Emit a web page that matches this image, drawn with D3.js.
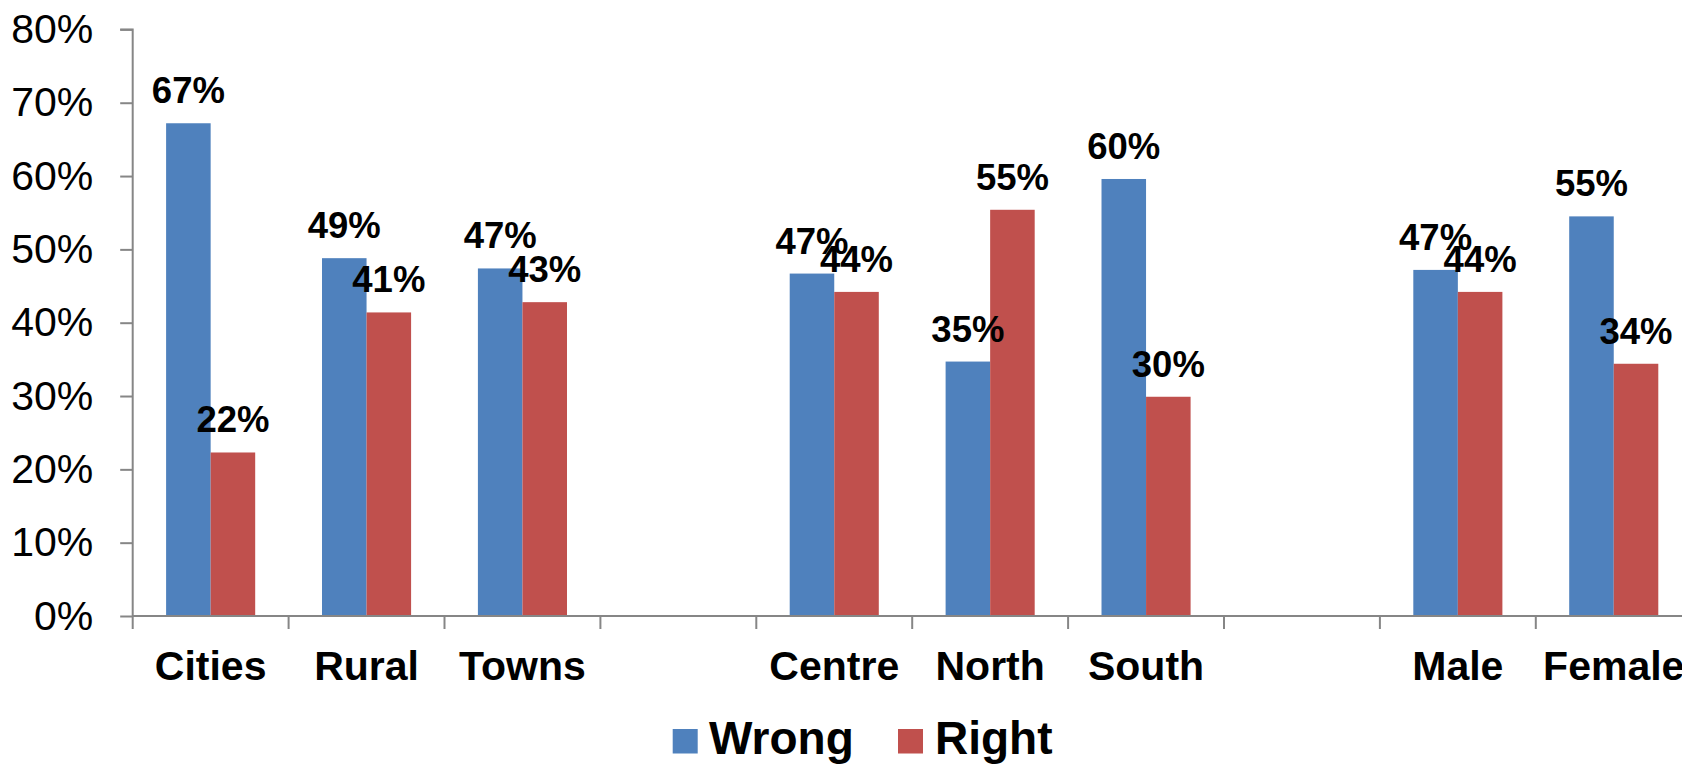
<!DOCTYPE html>
<html>
<head>
<meta charset="utf-8">
<script src="https://cdn.jsdelivr.net/npm/d3@7"></script>
<style>
  html, body { margin: 0; padding: 0; background: #fff; overflow: hidden; }
  text { font-family: Arial, "Liberation Sans", sans-serif; }
</style>
</head>
<body>
<svg id="chart" width="1682" height="765"></svg>
<script>
// ---- data ----
const categories = ["Cities", "Rural", "Towns", "", "Centre", "North", "South", "", "Male", "Female"];
const seriesNames = ["Wrong", "Right"];
const wrongValues = [0.672, 0.488, 0.474, null, 0.467, 0.347, 0.596, null, 0.472, 0.545];
const rightValues = [0.223, 0.414, 0.428, null, 0.442, 0.554, 0.299, null, 0.442, 0.344];
const wrongLabels = ["67%", "49%", "47%", "", "47%", "35%", "60%", "", "47%", "55%"];
const rightLabels = ["22%", "41%", "43%", "", "44%", "55%", "30%", "", "44%", "34%"];
const yTicks = [0, 0.1, 0.2, 0.3, 0.4, 0.5, 0.6, 0.7, 0.8];
const colors = ["#4F81BD", "#C0504D"];

// ---- layout ----
const svg = d3.select("#chart");
const plotLeft = 132.7, plotRight = 1691.7, plotTop = 29.4, plotBottom = 616;
const keys = categories.map((c, i) => i);

const x0 = d3.scaleBand().domain(keys).range([plotLeft, plotRight]).paddingInner(0).paddingOuter(0);
const x1 = d3.scaleBand().domain(seriesNames).range([0, x0.bandwidth()]).paddingInner(0).paddingOuter(0.75);
const y = d3.scaleLinear().domain([0, 0.8]).range([plotBottom, plotTop]);

const rows = keys.map(i => ({
  i,
  vals: [
    { s: "Wrong", v: wrongValues[i], lab: wrongLabels[i] },
    { s: "Right", v: rightValues[i], lab: rightLabels[i] }
  ]
}));

// bars
const g = svg.append("g");
const groups = g.selectAll("g.cat").data(rows).join("g")
  .attr("class", "cat")
  .attr("transform", d => `translate(${x0(d.i)},0)`);

groups.selectAll("rect").data(d => d.vals.filter(v => v.v != null)).join("rect")
  .attr("x", d => x1(d.s))
  .attr("width", x1.bandwidth())
  .attr("y", d => y(d.v))
  .attr("height", d => y(0) - y(d.v))
  .attr("fill", d => colors[seriesNames.indexOf(d.s)]);

// y axis
const yAxis = d3.axisLeft(y).tickValues(yTicks).tickFormat(d3.format(".0%")).tickSize(12.5).tickPadding(27);
const ya = svg.append("g").attr("transform", `translate(${plotLeft},0)`).call(yAxis);
ya.select(".domain").attr("stroke", "#868686").attr("stroke-width", 2);
ya.selectAll(".tick line").attr("stroke", "#868686").attr("stroke-width", 2);
ya.selectAll(".tick text").attr("font-size", 41).attr("fill", "#000")
  .attr("font-family", "Arial, 'Liberation Sans', sans-serif");
ya.select(".domain").attr("d", `M-12.5,${y(0.8)}H0V${y(0)}`);

// x axis line
svg.append("line").attr("x1", plotLeft).attr("x2", plotRight).attr("y1", plotBottom).attr("y2", plotBottom)
  .attr("stroke", "#868686").attr("stroke-width", 2);
// x tick marks at category boundaries
const boundaries = keys.map(i => x0(i)).concat([plotRight]);
svg.append("g").selectAll("line").data(boundaries).join("line")
  .attr("x1", d => d).attr("x2", d => d)
  .attr("y1", plotBottom).attr("y2", plotBottom + 13)
  .attr("stroke", "#868686").attr("stroke-width", 2);

// category labels
svg.append("g").selectAll("text").data(keys).join("text")
  .attr("x", i => x0(i) + x0.bandwidth() / 2)
  .attr("y", 680)
  .attr("text-anchor", "middle")
  .attr("font-size", 41).attr("font-weight", "bold").attr("fill", "#000")
  .text(i => categories[i]);

// data labels
groups.selectAll("text").data(d => d.vals.filter(v => v.v != null)).join("text")
  .attr("x", d => x1(d.s) + x1.bandwidth() / 2)
  .attr("y", d => y(d.v) - 20)
  .attr("text-anchor", "middle")
  .attr("font-size", 36.5).attr("font-weight", "bold").attr("fill", "#000")
  .text(d => d.lab);

// legend
const legendItems = [
  { name: "Wrong", sx: 672.7, tx: 709 },
  { name: "Right", sx: 898, tx: 935 }
];
const lg = svg.append("g");
lg.selectAll("rect").data(legendItems).join("rect")
  .attr("x", d => d.sx).attr("y", 729).attr("width", 25).attr("height", 24.5)
  .attr("fill", (d, i) => colors[i]);
lg.selectAll("text").data(legendItems).join("text")
  .attr("x", d => d.tx).attr("y", 754)
  .attr("font-size", 46).attr("font-weight", "bold").attr("fill", "#000")
  .text(d => d.name);
</script>
</body>
</html>
